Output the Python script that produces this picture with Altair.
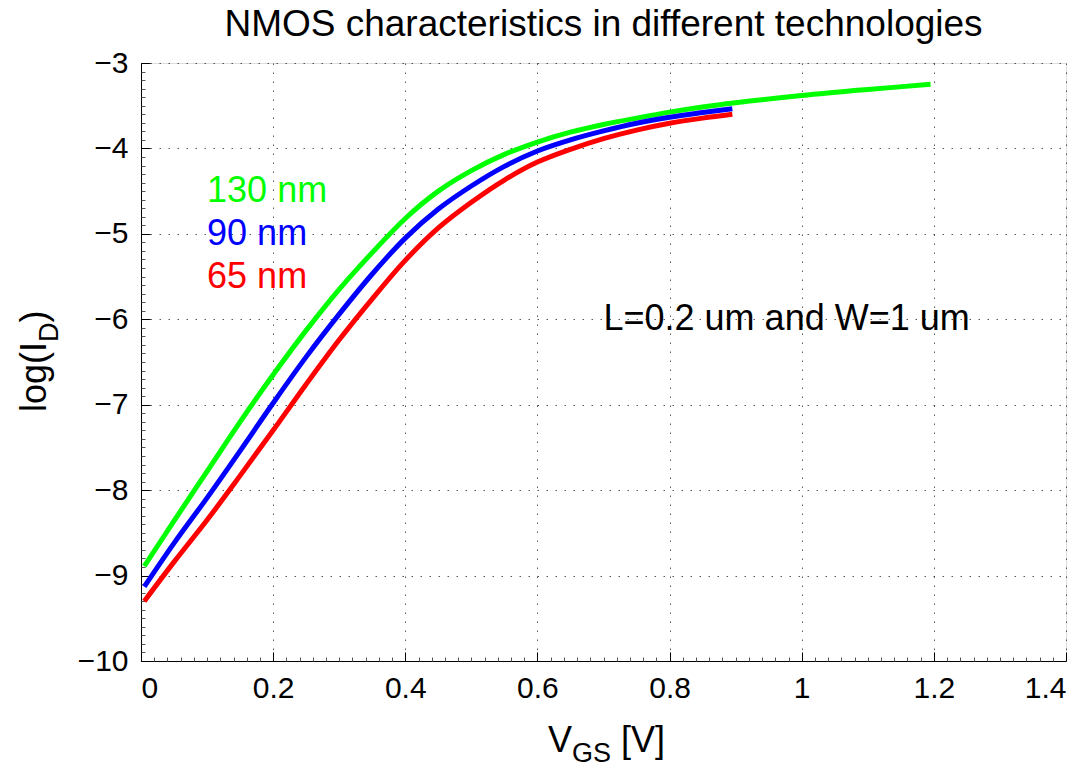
import altair as alt
import pandas as pd

# ---------------- data ----------------
tech_names = ["130 nm", "90 nm", "65 nm"]
tech_colors = ["#00ff00", "#0000ff", "#ff0000"]

vgs_130 = [0.005, 0.05, 0.1, 0.15, 0.2, 0.25, 0.3, 0.35, 0.4, 0.45, 0.5, 0.55,
           0.6, 0.65, 0.7, 0.75, 0.8, 0.85, 0.9, 1.0, 1.1, 1.195]
logid_130 = [-8.89, -8.36, -7.78, -7.20, -6.65, -6.13, -5.65, -5.22, -4.82, -4.50,
             -4.26, -4.07, -3.925, -3.81, -3.72, -3.645, -3.575, -3.515, -3.465,
             -3.38, -3.31, -3.25]

vgs_90 = [0.005, 0.05, 0.1, 0.15, 0.2, 0.25, 0.3, 0.35, 0.4, 0.45, 0.5, 0.55,
          0.6, 0.65, 0.7, 0.75, 0.8, 0.85, 0.895]
logid_90 = [-9.13, -8.62, -8.09, -7.54, -6.98, -6.44, -5.94, -5.47, -5.05, -4.71,
            -4.44, -4.21, -4.03, -3.90, -3.795, -3.705, -3.635, -3.58, -3.535]

vgs_65 = [0.005, 0.05, 0.1, 0.15, 0.2, 0.25, 0.3, 0.35, 0.4, 0.45, 0.5, 0.55,
          0.6, 0.65, 0.7, 0.75, 0.8, 0.85, 0.895]
logid_65 = [-9.30, -8.84, -8.35, -7.83, -7.30, -6.76, -6.24, -5.76, -5.31, -4.93,
            -4.63, -4.37, -4.16, -4.01, -3.885, -3.785, -3.705, -3.645, -3.60]

label_x = [0.1, 0.1, 0.1]
label_y = [-4.5, -5.0, -5.5]

note_text = ["L=0.2 um and W=1 um"]
note_x = [0.7]
note_y = [-6.0]

x_ticks = [0, 0.2, 0.4, 0.6, 0.8, 1.0, 1.2, 1.4]
y_ticks = [-10, -9, -8, -7, -6, -5, -4, -3]
x_minor = [round(i * 0.02, 2) for i in range(71) if i % 10 != 0]
y_minor = [round(-10 + i * 0.1, 1) for i in range(71) if i % 10 != 0]

# ---------------- tables ----------------
rows = []
for name, xs, ys in zip(tech_names, [vgs_130, vgs_90, vgs_65],
                        [logid_130, logid_90, logid_65]):
    for i, (xv, yv) in enumerate(zip(xs, ys)):
        rows.append({"vgs": xv, "logid": yv, "tech": name, "i": i})
df = pd.DataFrame(rows)
labels_df = pd.DataFrame({"vgs": label_x, "logid": label_y, "tech": tech_names})
note_df = pd.DataFrame({"vgs": note_x, "logid": note_y, "txt": note_text})

W, H = 925, 598
FONT = "Liberation Sans"
xscale = alt.Scale(domain=[0, 1.4], nice=False, zero=False)
yscale = alt.Scale(domain=[-10, -3], nice=False, zero=False)
cscale = alt.Scale(domain=tech_names, range=tech_colors)

# major ticks pointing inwards (axes moved onto the opposite edge)
tick_x_axis = alt.Axis(orient="top", offset=-H, values=x_ticks, labels=False,
                       domain=False, grid=False, ticks=True, tickSize=9,
                       tickColor="#000", tickWidth=1, title=None)
tick_y_axis = alt.Axis(orient="right", offset=-W, values=y_ticks, labels=False,
                       domain=False, grid=False, ticks=True, tickSize=9,
                       tickColor="#000", tickWidth=1, title=None)

lines = alt.Chart(df).mark_line(strokeWidth=5, interpolate="catmull-rom").encode(
    x=alt.X("vgs:Q", scale=xscale, axis=tick_x_axis),
    y=alt.Y("logid:Q", scale=yscale, axis=tick_y_axis),
    color=alt.Color("tech:N", scale=cscale, legend=None),
    order=alt.Order("i:Q"),
)

main_x_axis = alt.Axis(orient="bottom", values=x_ticks, format="~g", title=None,
                       grid=True, gridDash=[1.5, 7.5], gridColor="#222",
                       gridOpacity=0.75, gridWidth=1, ticks=False,
                       domain=True, domainColor="#000", domainWidth=1,
                       labelFont=FONT, labelFontSize=30, labelColor="#000",
                       labelPadding=12)
main_y_axis = alt.Axis(orient="left", values=y_ticks, format="d", title=None,
                       grid=True, gridDash=[1.5, 7.5], gridColor="#222",
                       gridOpacity=0.75, gridWidth=1, ticks=False,
                       domain=True, domainColor="#000", domainWidth=1,
                       labelFont=FONT, labelFontSize=30, labelColor="#000",
                       labelPadding=13)

labels = alt.Chart(labels_df).mark_text(
    font=FONT, fontSize=36, align="left", baseline="middle"
).encode(
    x=alt.X("vgs:Q", scale=xscale, axis=main_x_axis),
    y=alt.Y("logid:Q", scale=yscale, axis=main_y_axis),
    text="tech:N",
    color=alt.Color("tech:N", scale=cscale, legend=None),
)

minor_x_axis = alt.Axis(orient="top", offset=-H, values=x_minor, labels=False,
                        domain=False, grid=False, ticks=True, tickSize=4,
                        tickColor="#555", tickWidth=1, title=None)
minor_y_axis = alt.Axis(orient="right", offset=-W, values=y_minor, labels=False,
                        domain=False, grid=False, ticks=True, tickSize=4,
                        tickColor="#555", tickWidth=1, title=None)

note = alt.Chart(note_df).mark_text(
    font=FONT, fontSize=36, align="left", baseline="middle", color="#000"
).encode(
    x=alt.X("vgs:Q", scale=xscale, axis=minor_x_axis),
    y=alt.Y("logid:Q", scale=yscale, axis=minor_y_axis),
    text="txt:N",
)

# axis titles with subscripts, composed from text pieces
def piece(txt, x, y, size, angle=0):
    return alt.Chart(pd.DataFrame({"t": [txt]})).mark_text(
        font=FONT, fontSize=size, align="left", baseline="alphabetic",
        color="#000", angle=angle
    ).encode(x=alt.value(x), y=alt.value(y), text="t:N")

xt1 = piece("V", 407, 689, 36)
xt2 = piece("GS", 431, 699, 27)
xt3 = piece("[V]", 480, 689, 36)
yt1 = piece("log(I", -95, 349, 36, 270)
yt2 = piece("D", -83, 279, 27, 270)
yt3 = piece(")", -95, 259.5, 36, 270)

chart = alt.layer(lines, labels, note, xt1, xt2, xt3, yt1, yt2, yt3).resolve_axis(
    x="independent", y="independent"
).properties(
    width=W, height=H,
    title=alt.Title("NMOS characteristics in different technologies",
                    font=FONT, fontSize=37, fontWeight="normal", color="#000",
                    anchor="middle", frame="group", offset=4),
    autosize=alt.AutoSizeParams(type="none"),
    padding={"left": 141, "top": 63, "right": 23, "bottom": 106},
).configure_view(strokeWidth=0).configure(font=FONT, background="white")

chart.save("out.html", embed_options={"renderer": "svg", "actions": False})
